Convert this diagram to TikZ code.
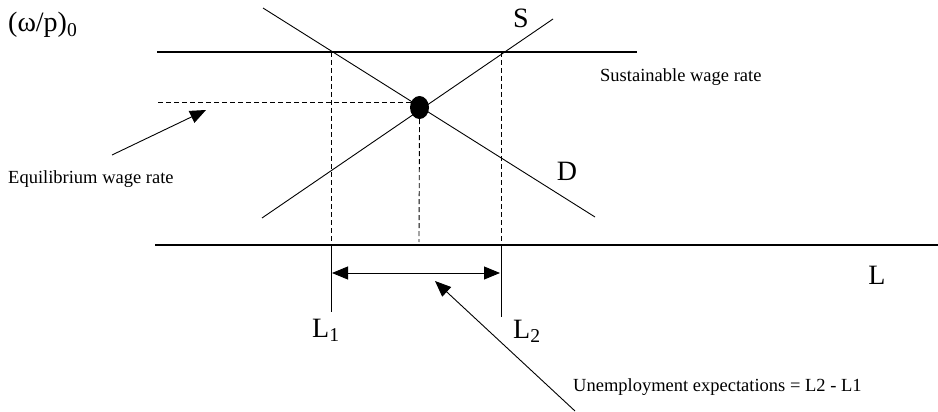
\documentclass[tikz,border=0pt]{standalone}
\usepackage{fontspec}
\setmainfont{Liberation Serif}
\usetikzlibrary{arrows.meta,shapes.geometric}
\begin{document}
\begin{tikzpicture}[x=1pt,y=-1pt,
  thickline/.style={line width=2.4pt},
  thinline/.style={line width=0.9pt},
  dashline/.style={line width=0.9pt, dash pattern=on 5pt off 3pt},
  bigtxt/.style={font=\fontsize{28}{30}\selectfont, inner sep=0pt},
  smalltxt/.style={font=\fontsize{18.5}{20}\selectfont, inner sep=0pt},
  headtip/.style={-{Triangle[length=16pt,width=13pt]}},
  dbltip/.style={{Triangle[length=16pt,width=13pt]}-{Triangle[length=16pt,width=13pt]}}]
\useasboundingbox (0,0) rectangle (938,412);
% axes-like lines
\coordinate (topL) at (157,52);
\coordinate (topR) at (637,52);
\coordinate (botL) at (155,245);
\coordinate (botR) at (938,245);
\draw[thickline] (topL) -- (topR);
\draw[thickline] (botL) -- (botR);
% demand and supply
\coordinate (dA) at (263,8);
\coordinate (dB) at (595,217);
\coordinate (sA) at (262,218);
\coordinate (sB) at (553,19);
\draw[thinline] (dA) -- (dB);
\draw[thinline] (sA) -- (sB);
% equilibrium dot
\node[ellipse, fill=black, minimum width=19pt, minimum height=23pt, inner sep=0pt] (dot) at (419.5,107.5) {};
% dashed guides
\coordinate (eqL) at (158,102);
\coordinate (eqR) at (411,102);
\draw[dashline] (eqL) -- (eqR);
\coordinate (v1t) at (331,52);
\coordinate (v1b) at (331,245);
\coordinate (v2t) at (501,52);
\coordinate (v2b) at (501,245);
\coordinate (vmb) at (419,242);
\draw[dashline] (v1t) -- (v1b);
\draw[dashline] (v2t) -- (v2b);
\draw[dashline] (dot.south) -- (vmb);
% solid ticks below axis
\coordinate (t1) at (331,312);
\coordinate (t2) at (501,317);
\draw[thinline] (v1b) -- (t1);
\draw[thinline] (v2b) -- (t2);
% double arrow
\coordinate (da1) at (332,273);
\coordinate (da2) at (500,273);
\draw[thinline, dbltip] (da1) -- (da2);
% labels
\node[bigtxt, anchor=base west] (wp) at (8,32) {(ω/p)\textsubscript{0}};
\node[bigtxt, anchor=base] (lblS) at (521,28) {S};
\node[bigtxt, anchor=base] (lblD) at (567,180) {D};
\node[bigtxt, anchor=base] (lblL) at (877,284) {L};
\node[bigtxt, anchor=base west] (lblL1) at (312,337) {L\textsubscript{1}};
\node[bigtxt, anchor=base west] (lblL2) at (513,338) {L\textsubscript{2}};
\node[smalltxt, anchor=base west] (sust) at (600,82) {Sustainable wage rate};
\node[smalltxt, anchor=base west] (equi) at (8,183) {Equilibrium wage rate};
\node[smalltxt, anchor=base west] (unemp) at (573,391) {Unemployment expectations = L2 - L1};
% pointer arrows
\coordinate (eqArrS) at (112,155);
\coordinate (eqArrT) at (206,110);
\draw[thinline, headtip] (eqArrS) -- (eqArrT);
\coordinate (unArrS) at (575,411);
\coordinate (unArrT) at (435,281);
\draw[thinline, headtip] (unArrS) -- (unArrT);
\end{tikzpicture}
\end{document}
